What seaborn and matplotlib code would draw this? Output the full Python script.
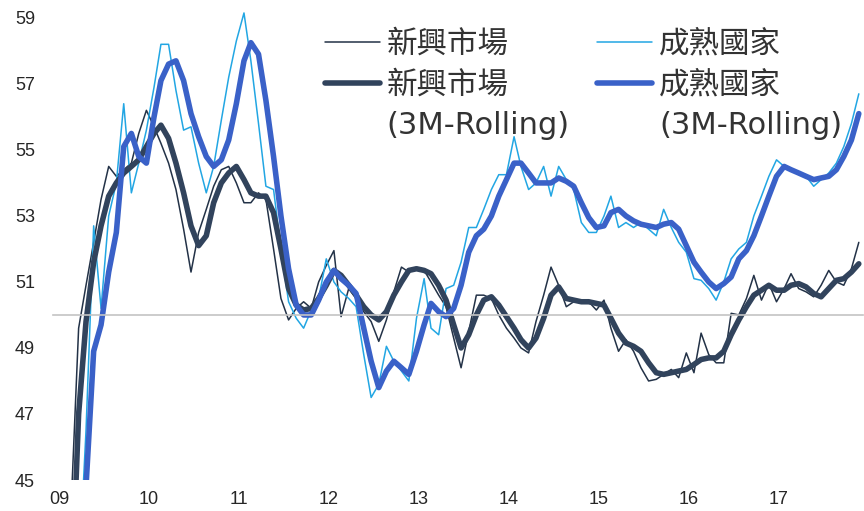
import numpy as np
import pandas as pd
import matplotlib
matplotlib.use("Agg")
import matplotlib.pyplot as plt
from matplotlib.lines import Line2D
import seaborn as sns

# ---- data (monthly, Jan 2009 - Dec 2017) ----
em_raw = [40.0, 42.0, 44.1, 49.6, 50.9, 52.2, 53.5, 54.5, 54.2, 54.4, 54.6, 55.5,
          56.2, 55.7, 55.2, 54.6, 53.8, 52.6, 51.3, 52.5, 53.2, 53.9, 54.4, 54.5,
          54.0, 53.4, 53.4, 53.7, 53.5, 52.0, 50.5, 49.85, 50.2, 50.4, 50.2, 51.0,
          51.5, 51.95, 49.95, 50.8, 50.5, 50.1, 49.8, 49.2, 49.85, 50.7, 51.45, 51.3,
          51.4, 51.35, 51.0, 50.6, 50.25, 49.3, 48.4, 49.5, 50.6, 50.6, 50.5, 50.0,
          49.6, 49.3, 49.0, 48.85, 49.8, 50.6, 51.45, 50.9, 50.25, 50.4, 50.45, 50.4,
          50.15, 50.45, 49.6, 48.9, 49.25, 48.9, 48.4, 48.0, 48.05, 48.2, 48.35, 48.1,
          48.85, 48.25, 49.45, 48.8, 48.55, 48.55, 50.05, 50.0, 50.5, 51.2, 50.45, 50.95,
          50.4, 50.8, 51.25, 50.8, 50.7, 50.55, 50.9, 51.35, 51.0, 50.9, 51.4, 52.2]

em_3m = [38.0, 39.0, 41.0, 47.0, 49.8, 51.6, 52.7, 53.6, 54.0, 54.3, 54.5, 54.7,
         55.1, 55.5, 55.75, 55.35, 54.6, 53.7, 52.7, 52.1, 52.4, 53.4, 54.0, 54.3,
         54.5, 54.1, 53.7, 53.6, 53.6, 53.1, 52.0, 50.8, 50.3, 50.15, 50.2, 50.5,
         50.9, 51.35, 51.2, 50.9, 50.6, 50.25, 50.0, 49.85, 50.1, 50.6, 51.0, 51.35,
         51.4, 51.35, 51.25, 50.9, 50.45, 49.7, 49.0, 49.4, 50.0, 50.45, 50.55, 50.3,
         49.95, 49.6, 49.25, 49.0, 49.3, 49.9, 50.6, 50.85, 50.5, 50.45, 50.4, 50.4,
         50.35, 50.3, 49.9, 49.45, 49.15, 49.05, 48.9, 48.55, 48.25, 48.2, 48.25, 48.3,
         48.35, 48.5, 48.65, 48.7, 48.7, 48.9, 49.4, 49.85, 50.25, 50.6, 50.75, 50.9,
         50.75, 50.75, 50.9, 50.95, 50.85, 50.65, 50.55, 50.8, 51.05, 51.1, 51.3, 51.55]

dm_raw = [38.0, 39.0, 40.0, 42.0, 46.5, 52.7, 50.2, 53.0, 54.0, 56.4, 53.7, 54.6,
          55.6, 56.9, 58.2, 58.2, 56.8, 55.6, 55.7, 54.6, 53.7, 54.5, 55.9, 57.2,
          58.3, 59.15, 57.7, 55.8, 53.9, 53.8, 52.0, 50.4, 49.9, 49.6, 50.15, 50.5,
          51.7, 51.0, 50.7, 50.5, 50.25, 48.8, 47.5, 47.9, 49.05, 48.6, 48.3, 48.0,
          49.9, 51.1, 49.6, 49.4, 50.8, 50.9, 51.6, 52.65, 52.65, 53.2, 53.8, 54.25,
          54.25, 55.4, 54.5, 53.8, 54.0, 54.5, 53.6, 54.5, 54.1, 53.8, 52.8, 52.5,
          52.5, 53.0, 53.6, 52.65, 52.8, 52.65, 52.8, 52.6, 52.4, 53.2, 52.65, 52.2,
          51.9, 51.1, 51.05, 50.8, 50.45, 51.0, 51.7, 52.0, 52.2, 53.0, 53.6, 54.2,
          54.7, 54.5, 54.4, 54.3, 54.2, 53.9, 54.1, 54.3, 54.6, 55.1, 55.8, 56.7]

dm_3m = [36.0, 37.0, 38.5, 40.0, 44.8, 48.9, 49.7, 51.3, 52.5, 55.1, 55.5, 54.8,
         54.6, 56.0, 57.1, 57.6, 57.7, 57.1, 56.1, 55.4, 54.8, 54.5, 54.7, 55.3,
         56.4, 57.7, 58.25, 57.9, 56.5, 54.8, 53.0, 51.4, 50.3, 50.0, 50.0, 50.45,
         51.0, 51.35, 51.1, 50.9, 50.65, 49.6, 48.6, 47.8, 48.3, 48.6, 48.4, 48.2,
         48.9, 49.7, 50.35, 50.1, 49.95, 50.2, 50.9, 51.9, 52.4, 52.6, 53.0, 53.6,
         54.1, 54.6, 54.6, 54.3, 54.0, 54.0, 54.0, 54.15, 54.05, 53.9, 53.4, 52.95,
         52.65, 52.7, 53.1, 53.2, 53.0, 52.85, 52.75, 52.7, 52.65, 52.75, 52.8, 52.6,
         52.1, 51.6, 51.3, 51.0, 50.8, 50.95, 51.15, 51.7, 51.95, 52.4, 53.0, 53.6,
         54.2, 54.5, 54.4, 54.3, 54.2, 54.1, 54.15, 54.2, 54.4, 54.8, 55.3, 56.1]

year_labels = ["09", "10", "11", "12", "13", "14", "15", "16", "17"]
series_labels = ["新興市場", "新興市場", "成熟國家", "成熟國家"]
rolling_note = "(3M-Rolling)"

# ---- build table ----
dates = pd.date_range("2009-01-01", periods=len(em_raw), freq="MS") + pd.Timedelta(days=14)
df = pd.DataFrame({"date": dates, "em_raw": em_raw, "em_3m": em_3m,
                   "dm_raw": dm_raw, "dm_3m": dm_3m})

sns.set_theme(style="white")
plt.rcParams["font.family"] = ["Noto Sans CJK TC", "DejaVu Sans"]

fig = plt.figure(figsize=(8.64, 5.11), dpi=100)
ax = fig.add_axes([53 / 864, 31 / 511, 810 / 864, 472 / 511])

c_em_thin = "#233247"
c_em_thick = "#31435c"
c_dm_thin = "#22a6e3"
c_dm_thick = "#3a61c8"

sns.lineplot(data=df, x="date", y="em_raw", ax=ax, color=c_em_thin, linewidth=1.1,
             label=series_labels[0])
sns.lineplot(data=df, x="date", y="dm_raw", ax=ax, color=c_dm_thin, linewidth=1.1,
             label=series_labels[2])
sns.lineplot(data=df, x="date", y="em_3m", ax=ax, color=c_em_thick, linewidth=4.0,
             label=series_labels[1])
sns.lineplot(data=df, x="date", y="dm_3m", ax=ax, color=c_dm_thick, linewidth=4.0,
             label=series_labels[3])

ax.set_xlim(pd.Timestamp("2009-01-01"), pd.Timestamp("2018-01-01"))
ax.set_ylim(45, 59.3)
ax.set_xlabel("")
ax.set_ylabel("")

for s in ["top", "right", "left"]:
    ax.spines[s].set_visible(False)
ax.spines["bottom"].set_position(("data", 50))
ax.spines["bottom"].set_color("#c4c4c4")
ax.spines["bottom"].set_linewidth(1.2)

# year boundary ticks on the 50-line, labels slightly to the right of each tick
xt = [pd.Timestamp(f"20{y}-01-01") for y in year_labels] + [pd.Timestamp("2018-01-01")]
ax.set_xticks(xt)
ax.set_xticklabels([""] * len(xt))
ax.tick_params(axis="x", which="major", direction="out", length=4, width=1,
               color="#c4c4c4")
xl = [pd.Timestamp(f"20{y}-01-25") for y in year_labels]
ax.set_xticks(xl, minor=True)
ax.set_xticklabels(year_labels, minor=True, fontfamily="Liberation Sans", fontsize=13,
                   color="#262626")
ax.tick_params(axis="x", which="minor", length=0, pad=127)

yt = list(range(45, 60, 2))
ax.set_yticks(yt)
ax.set_yticklabels([str(v) for v in yt], fontfamily="Liberation Sans", fontsize=13,
                   color="#262626")
ax.tick_params(axis="y", length=0, pad=13)
ax.grid(False)

h, l = ax.get_legend_handles_labels()
blank = Line2D([], [], color="none", linewidth=0)
handles = [h[0], h[2], blank, h[1], h[3], blank]
labels = [l[0], l[2], rolling_note, l[1], l[3], rolling_note]
leg = ax.legend(handles, labels, ncol=2,
                loc="upper left", bbox_to_anchor=(325 / 864, 1 - 30 / 511),
                bbox_transform=fig.transFigure, frameon=False,
                prop={"family": ["DejaVu Sans", "Noto Sans CJK TC"], "size": 22},
                labelcolor="#333333", handlelength=1.8, handletextpad=0.22,
                columnspacing=0.9, borderpad=0, borderaxespad=0, labelspacing=0.38)

fig.savefig("out.png", dpi=100)
